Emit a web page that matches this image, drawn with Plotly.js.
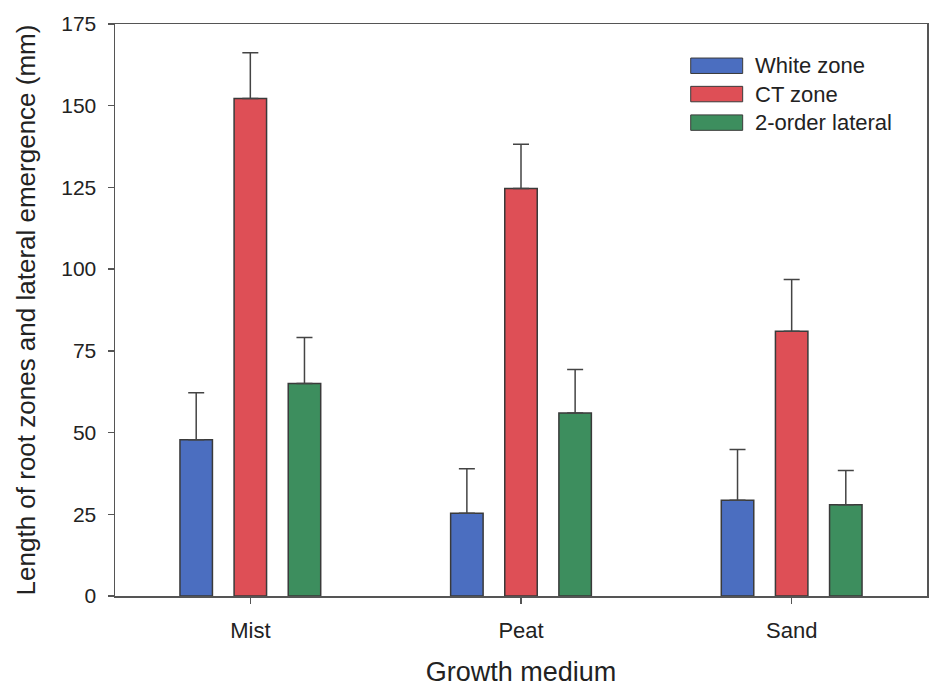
<!DOCTYPE html>
<html>
<head>
<meta charset="utf-8">
<script src="https://cdn.plot.ly/plotly-3.0.1.min.js"></script>
<style>html,body{margin:0;padding:0;background:#fff;}#chart{width:929px;height:690px;}</style>
</head>
<body>
<div id="chart"></div>
<script>
const categories = ["Mist", "Peat", "Sand"];
const seriesNames = ["White zone", "CT zone", "2-order lateral"];
const whiteZone = [47.8, 25.3, 29.3];
const ctZone = [152.2, 124.7, 81.0];
const secondOrder = [65.0, 56.0, 27.9];
const whiteErr = [14.4, 13.6, 15.5];
const ctErr = [14.0, 13.5, 15.8];
const secondErr = [14.1, 13.3, 10.5];
const yTicks = [0, 25, 50, 75, 100, 125, 150, 175];
const xTitle = "Growth medium";
const yTitle = "Length of root zones and lateral emergence (mm)";

const colors = ["#4b6ec0", "#de4f56", "#3d8e5e"];
const values = [whiteZone, ctZone, secondOrder];
const errs = [whiteErr, ctErr, secondErr];
const FONT = "Liberation Sans, Arial, sans-serif";

const traces = values.map((v, i) => ({
  type: "bar",
  name: seriesNames[i],
  x: categories,
  y: v,
  marker: {color: colors[i], line: {color: "#3a3a3a", width: 1.5}},
  error_y: {type: "data", array: errs[i], arrayminus: v.map(() => 0), symmetric: false,
            color: "#444", thickness: 1.5, width: 8},
  showlegend: false
}));

const shapes = [];
const annotations = [];
const rowY = [0.927, 0.8775, 0.8276];
seriesNames.forEach((n, i) => {
  shapes.push({type: "rect", xref: "paper", yref: "paper",
    x0: 0.709, x1: 0.773, y0: rowY[i] - 0.0135, y1: rowY[i] + 0.0135,
    fillcolor: colors[i], line: {color: "#3a3a3a", width: 1}});
  annotations.push({xref: "paper", yref: "paper", x: 0.786, y: rowY[i],
    xanchor: "left", yanchor: "middle", showarrow: false, text: n,
    font: {family: FONT, size: 22, color: "#222"}});
});

const layout = {
  width: 929, height: 690,
  margin: {l: 115, r: 2, t: 24, b: 94},
  paper_bgcolor: "#fff", plot_bgcolor: "#fff",
  barmode: "group", bargap: 0.4, bargroupgap: 0.4,
  font: {family: FONT, color: "#222"},
  xaxis: {
    type: "category", range: [-0.5, 2.5],
    showline: true, mirror: true, linecolor: "#555", linewidth: 1.5,
    ticks: "outside", ticklen: 6, tickcolor: "#555", tickwidth: 1.5,
    tickfont: {family: FONT, size: 22, color: "#222"},
    ticklabelstandoff: 8,
    showgrid: false, zeroline: false,
    title: {text: xTitle, font: {family: FONT, size: 27, color: "#222"}, standoff: 20}
  },
  yaxis: {
    range: [0, 175], tickvals: yTicks, ticktext: yTicks.map(String),
    showline: true, mirror: true, linecolor: "#555", linewidth: 1.5,
    ticks: "outside", ticklen: 6, tickcolor: "#555", tickwidth: 1.5,
    tickfont: {family: FONT, size: 21, color: "#222"},
    ticklabelstandoff: 7,
    showgrid: false, zeroline: false,
    title: {text: yTitle, font: {family: FONT, size: 26, color: "#222"}, standoff: 18}
  },
  shapes: shapes,
  annotations: annotations
};

Plotly.newPlot("chart", traces, layout, {displayModeBar: false, staticPlot: true});
</script>
</body>
</html>
